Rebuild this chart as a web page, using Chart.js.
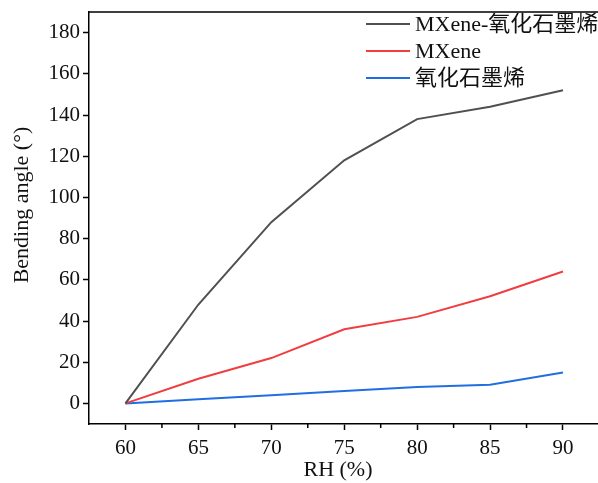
<!DOCTYPE html>
<html lang="zh">
<head>
  <meta charset="utf-8">
  <title>Bending angle vs RH</title>
  <script src="https://cdn.jsdelivr.net/npm/chart.js@4.4.0/dist/chart.umd.min.js"></script>
  <style>
    html, body { margin: 0; padding: 0; background: #fff; }
    #wrap { width: 598px; height: 483px; position: relative; }
  </style>
</head>
<body>
  <div id="wrap"><canvas id="bendChart"></canvas></div>

  <script>
    // data
    const rh = [60, 65, 70, 75, 80, 85, 90];
    const mxeneGO = [0, 48, 88, 118, 138, 144, 152];
    const mxene = [0, 12, 22, 36, 42, 52, 64];
    const go = [0, 2, 4, 6, 8, 9, 15];

    const xTickValues = [57.5, 60, 62.5, 65, 67.5, 70, 72.5, 75, 77.5, 80, 82.5, 85, 87.5, 90];
    const yTickValues = [0, 20, 40, 60, 80, 100, 120, 140, 160, 180];

    const seriesNames = ['MXene-氧化石墨烯', 'MXene', '氧化石墨烯'];
    const seriesColors = ['#505050', '#f23d40', '#1f6fe3'];
    const xTitle = 'RH (%)';
    const yTitle = 'Bending angle (°)';

    const serif = "'Liberation Serif', 'Times New Roman', 'Noto Sans CJK SC', serif";

    function toPoints(ys) {
      return rh.map((x, i) => ({ x: x, y: ys[i] }));
    }

    // top frame line, minor x ticks, axis titles and legend
    const framePlugin = {
      id: 'framePlugin',
      afterDraw(chart) {
        const ctx = chart.ctx;
        const a = chart.chartArea;
        const xs = chart.scales.x;
        ctx.save();
        ctx.strokeStyle = '#000';
        ctx.lineWidth = 1.5;
        ctx.beginPath();
        ctx.moveTo(a.left, a.top);
        ctx.lineTo(a.right, a.top);
        xs.ticks.forEach(t => {
          if (t.value % 5 !== 0 && t.value > xs.min) {
            const px = xs.getPixelForValue(t.value);
            ctx.moveTo(px, a.bottom);
            ctx.lineTo(px, a.bottom + 4);
          }
        });
        ctx.stroke();

        ctx.fillStyle = '#111';
        ctx.font = "22px 'Liberation Serif', serif";
        ctx.textAlign = 'center';
        ctx.textBaseline = 'middle';
        ctx.fillText(xTitle, 338, 470);
        ctx.save();
        ctx.translate(22, 205);
        ctx.rotate(-Math.PI / 2);
        ctx.fillText(yTitle, 0, 0);
        ctx.restore();

        // legend
        ctx.font = "22px 'Liberation Serif', 'Noto Sans CJK SC', serif";
        ctx.textAlign = 'left';
        const rowsY = [24, 51, 78];
        chart.data.datasets.forEach((ds, i) => {
          ctx.strokeStyle = ds.borderColor;
          ctx.lineWidth = 2;
          ctx.beginPath();
          ctx.moveTo(366, rowsY[i]);
          ctx.lineTo(410, rowsY[i]);
          ctx.stroke();
          ctx.fillStyle = '#111';
          ctx.fillText(ds.label, 415, rowsY[i] + 1);
        });
        ctx.restore();
      }
    };

    new Chart(document.getElementById('bendChart'), {
      type: 'line',
      data: {
        datasets: [
          { label: seriesNames[0], data: toPoints(mxeneGO), borderColor: seriesColors[0] },
          { label: seriesNames[1], data: toPoints(mxene), borderColor: seriesColors[1] },
          { label: seriesNames[2], data: toPoints(go), borderColor: seriesColors[2] }
        ].map(d => Object.assign(d, {
          borderWidth: 2,
          pointRadius: 0,
          fill: false,
          tension: 0
        }))
      },
      options: {
        responsive: true,
        maintainAspectRatio: false,
        animation: false,
        layout: { padding: { top: 12, right: 0, left: 0, bottom: 0 } },
        plugins: {
          legend: { display: false },
          tooltip: { enabled: false }
        },
        scales: {
          x: {
            type: 'linear',
            min: 57.5,
            max: 92.4,
            afterBuildTicks(scale) {
              scale.ticks = xTickValues.map(v => ({ value: v }));
            },
            ticks: {
              autoSkip: false,
              maxRotation: 0,
              padding: 6,
              color: '#111',
              font: { family: serif, size: 21 },
              callback: v => (v % 5 === 0 ? String(v) : '')
            },
            grid: {
              drawOnChartArea: false,
              tickLength: 6,
              tickWidth: 1.5,
              tickColor: c => (c.tick && c.tick.value % 5 === 0 ? '#000' : 'rgba(0,0,0,0)')
            },
            border: { color: '#000', width: 1.5 },
            afterFit(scale) {
              scale.height = 59;
              scale.paddingLeft = 0;
              scale.paddingRight = 0;
            }
          },
          y: {
            min: -10,
            max: 190,
            afterBuildTicks(scale) {
              scale.ticks = yTickValues.map(v => ({ value: v }));
            },
            ticks: {
              padding: 3,
              color: '#111',
              font: { family: serif, size: 21 },
              callback: v => String(v)
            },
            grid: {
              drawOnChartArea: false,
              tickLength: 6,
              tickWidth: 1.5,
              tickColor: '#000'
            },
            border: { color: '#000', width: 1.5 },
            afterFit(scale) {
              scale.width = 89;
              scale.paddingTop = 0;
              scale.paddingBottom = 0;
            }
          }
        }
      },
      plugins: [framePlugin]
    });
  </script>
</body>
</html>
